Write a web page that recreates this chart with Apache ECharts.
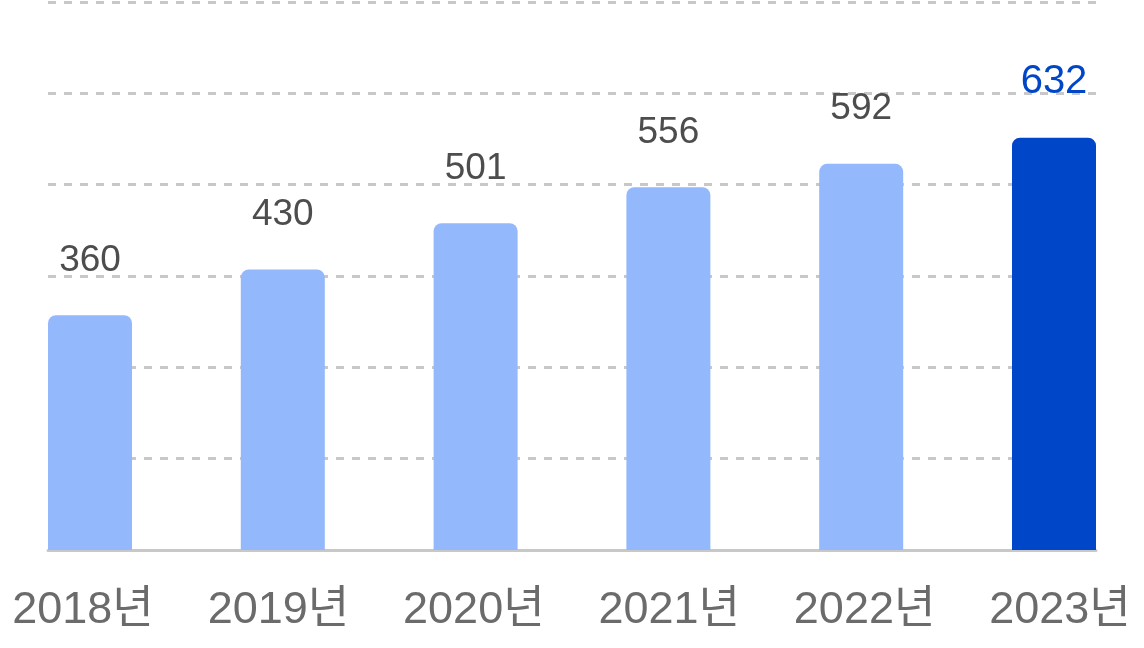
<!DOCTYPE html>
<html>
<head>
<meta charset="utf-8">
<script src="https://cdn.jsdelivr.net/npm/echarts@6/dist/echarts.min.js"></script>
<style>
  html, body { margin: 0; padding: 0; background: #ffffff; }
  #chart { width: 1144px; height: 648px; }
</style>
</head>
<body>
<div id="chart"></div>
<script>
const categories = ['2018년', '2019년', '2020년', '2021년', '2022년', '2023년'];
const values = [360, 430, 501, 556, 592, 632];
const highlightIndex = 5;

const yMin = 0, yMax = 840, yInterval = 140;
const FONT = '"Liberation Sans", Arial, "Noto Sans CJK KR", sans-serif';

const chart = echarts.init(document.getElementById('chart'), null, { renderer: 'canvas' });

const gridTop = 2, gridBottom = 98;

const yBase = { type: 'value', min: yMin, max: yMax, interval: yInterval,
  axisLabel: { show: false }, axisLine: { show: false }, axisTick: { show: false } };

chart.setOption({
  animation: false,
  backgroundColor: '#ffffff',
  grid: [
    { left: 48, right: 48, top: gridTop, bottom: gridBottom },
    { left: 90, right: 90, top: gridTop, bottom: gridBottom },
    { left: 83, right: 84, top: gridTop, bottom: gridBottom }
  ],
  xAxis: [
    { gridIndex: 0, type: 'category', data: categories,
      axisLine: { show: true, lineStyle: { color: '#c8c8c8', width: 3 } },
      axisTick: { show: false }, axisLabel: { show: false }, splitLine: { show: false } },
    { gridIndex: 1, type: 'category', data: categories, boundaryGap: false,
      axisLine: { show: false }, axisTick: { show: false }, axisLabel: { show: false }, splitLine: { show: false } },
    { gridIndex: 2, type: 'category', data: categories, boundaryGap: false,
      axisLine: { show: false }, axisTick: { show: false }, splitLine: { show: false },
      axisLabel: { show: true, color: '#6b6b6b', fontSize: 45, fontFamily: FONT, margin: 38 } }
  ],
  yAxis: [
    Object.assign({ gridIndex: 0, splitLine: { show: true, lineStyle: { color: '#c8c8c8', width: 3, type: [8, 8] } } }, yBase),
    Object.assign({ gridIndex: 1, splitLine: { show: false } }, yBase),
    Object.assign({ gridIndex: 2, splitLine: { show: false } }, yBase)
  ],
  series: [{
    type: 'bar',
    xAxisIndex: 1,
    yAxisIndex: 1,
    barWidth: 84,
    z: 5,
    data: values.map((v, i) => ({
      value: v,
      itemStyle: { color: i === highlightIndex ? '#0046c8' : '#94b8fc', borderRadius: [8, 8, 0, 0] },
      label: i === highlightIndex ? { color: '#0046c8', fontSize: 40 } : {}
    })),
    label: {
      show: true, position: 'top', distance: 36,
      color: '#4d4d4d', fontSize: 37, fontFamily: FONT
    }
  }]
});
</script>
</body>
</html>
